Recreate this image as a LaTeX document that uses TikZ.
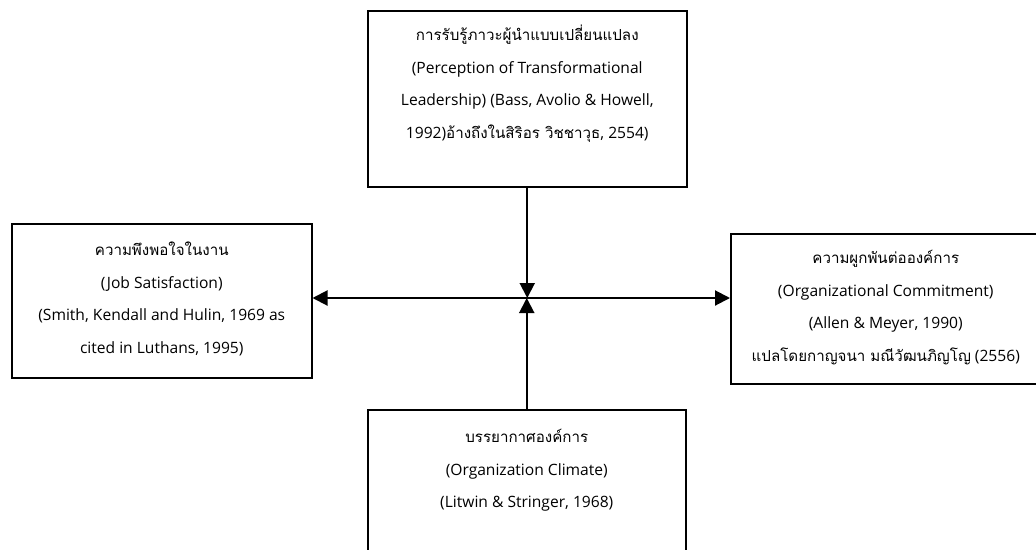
\documentclass[tikz,border=0pt]{standalone}
\usepackage{fontspec}
\setmainfont{Open Sans}
\newfontfamily\thaifont[Script=Thai,Scale=0.97]{Loma}
\newcommand{\thai}[1]{{\thaifont #1}}
\newcommand{\boxtext}[4]{\parbox[t][#2][t]{#1}{\centering\fontsize{15.6pt}{32.5pt}\selectfont\rule{0pt}{#3}#4\par}}
\usetikzlibrary{arrows.meta}
\begin{document}
\begin{tikzpicture}[x=1pt,y=-1pt,
  box/.style={draw, line width=1.5pt, inner sep=0pt, anchor=north west},
  >={Triangle[length=15pt,width=15pt]},
  conn/.style={line width=2pt}]
\useasboundingbox (0,0) rectangle (1036,549);
\clip (0,0) rectangle (1036,549);
\fill[white] (0,0) rectangle (1036,549);

\node[box] (lead) at (367,10) {\boxtext{319pt}{176pt}{30pt}{%
  \thai{การรับรู้ภาวะผู้นำแบบเปลี่ยนแปลง}\\
  (Perception of Transformational\\
  Leadership) (Bass, Avolio \& Howell,\\
  1992)\thai{อ้างถึงในสิริอร วิชชาวุธ}, 2554)}};

\node[box] (sat) at (11,223) {\boxtext{300pt}{154pt}{32pt}{%
  \thai{ความพึงพอใจในงาน}\\
  (Job Satisfaction)\\
  (Smith, Kendall and Hulin, 1969 as\\
  cited in Luthans, 1995)}};

\node[box] (comm) at (730,233) {\boxtext{310pt}{150pt}{30pt}{%
  \thai{ความผูกพันต่อองค์การ}\\
  (Organizational Commitment)\\
  (Allen \& Meyer, 1990)\\
  \thai{แปลโดยกาญจนา มณีวัฒนภิญโญ} (2556)}};

\node[box] (clim) at (367,409) {\boxtext{318pt}{176pt}{33pt}{%
  \thai{บรรยากาศองค์การ}\\
  (Organization Climate)\\
  (Litwin \& Stringer, 1968)}};

\coordinate (hub) at (526,298);

\draw[conn, ->] (lead.south) -- (lead.south |- hub);
\draw[conn, ->] (clim.north) -- (clim.north |- hub);
\draw[conn, <->] (sat.east |- hub) -- (comm.west |- hub);
\end{tikzpicture}
\end{document}
